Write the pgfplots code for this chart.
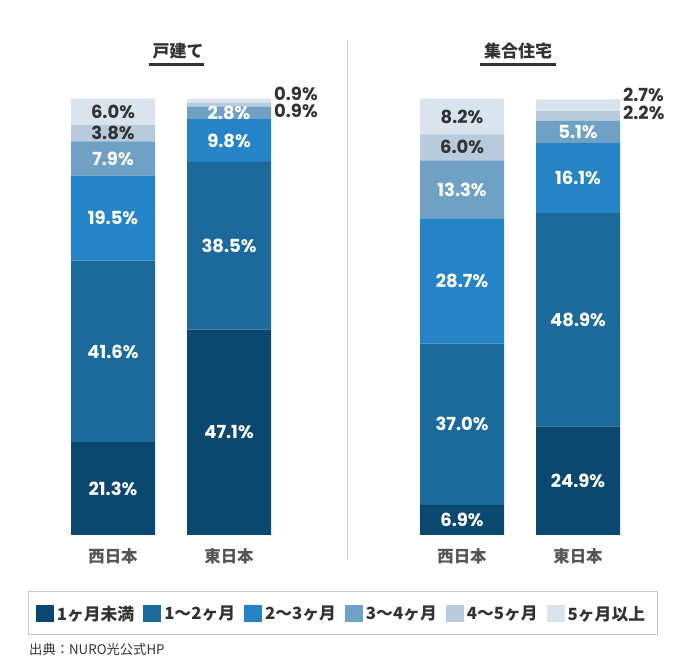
\documentclass[border=0pt]{standalone}
\usepackage{pgfplots}
\pgfplotsset{compat=1.18}
\usepackage{fontspec}
\setmainfont{Noto Sans CJK JP}
\newfontfamily\numfont{Poppins}
\definecolor{c1}{HTML}{0B4870}
\definecolor{c2}{HTML}{1C6A9C}
\definecolor{c3}{HTML}{2484C5}
\definecolor{c4}{HTML}{6EA1C4}
\definecolor{c5}{HTML}{B7CBDC}
\definecolor{c6}{HTML}{D9E4EE}
\definecolor{txt}{HTML}{333333}
\definecolor{lbl}{HTML}{555555}
\tikzset{numf/.style={font=\numfont\fontsize{18}{18}\selectfont\bfseries}}
\pgfplotsset{
  geom/.style={scale only axis, width=232pt, height=436pt,
    xmin=-0.5, xmax=1.5, ymin=0, ymax=100, clip=false,
    axis line style={draw=none}, ytick=\empty, major tick length=0pt,
    anchor=south west},
  panel/.style={geom, ybar stacked, bar width=84pt, xtick={0,1},
    xticklabels={西日本,東日本},
    xticklabel style={font=\fontsize{16.4}{16.4}\selectfont\bfseries, text=lbl, yshift=-10pt}},
  labs/.style={geom, xtick=\empty},
  lw/.style={draw=none, only marks, mark=none, point meta=explicit,
    nodes near coords={\pgfmathprintnumber[fixed,fixed zerofill,precision=1,assume math mode=true]{\pgfplotspointmeta}\%},
    every node near coord/.style={anchor=center, text=white, numf}},
  ld/.style={lw, every node near coord/.style={anchor=center, text=txt, numf}},
  lo/.style={lw, every node near coord/.style={anchor=west, text=txt, numf, inner xsep=2pt, inner ysep=0pt, text height=12.5pt, text depth=0pt}},
}
\begin{document}
\begin{tikzpicture}
\useasboundingbox (0pt,0pt) rectangle (684pt,660pt);
% left panel
\begin{axis}[panel, at={(55pt,125pt)},
  legend columns=6,
  legend style={draw=none, fill=none, at={(1.237,-0.181)}, anchor=center,
    font=\fontsize{16.8}{16.8}\selectfont\bfseries, text=txt,
    nodes={inner xsep=3pt},
    /tikz/every odd column/.append style={column sep=0pt},
    /tikz/every even column/.append style={column sep=6pt}},
  legend image code/.code={\fill[#1] (0pt,-8pt) rectangle (18pt,9pt);},
]
\addplot[fill=c1, draw=none] coordinates {(0,21.3) (1,47.1)};
\addplot[fill=c2, draw=none] coordinates {(0,41.6) (1,38.5)};
\addplot[fill=c3, draw=none] coordinates {(0,19.5) (1,9.8)};
\addplot[fill=c4, draw=none] coordinates {(0,7.9) (1,2.8)};
\addplot[fill=c5, draw=none] coordinates {(0,3.8) (1,0.9)};
\addplot[fill=c6, draw=none] coordinates {(0,6.0) (1,0.9)};
\legend{1ヶ月未満,1〜2ヶ月,2〜3ヶ月,3〜4ヶ月,4〜5ヶ月,5ヶ月以上}
\end{axis}
\begin{axis}[labs, at={(55pt,125pt)}]
\addplot[lw] table[meta=m] {
x y m
0 10.65 21.3
0 42.1 41.6
0 72.65 19.5
0 86.35 7.9
1 23.55 47.1
1 66.35 38.5
1 90.5 9.8
1 96.8 2.8
};
\addplot[ld] table[meta=m] {
x y m
0 92.2 3.8
0 97.1 6.0
};
\addplot[lo] table[meta=m] {
x y m
1.37 101.2 0.9
1.37 97.1 0.9
};
\end{axis}
% right panel
\begin{axis}[panel, at={(404pt,125pt)}]
\addplot[fill=c1, draw=none] coordinates {(0,6.9) (1,24.9)};
\addplot[fill=c2, draw=none] coordinates {(0,37.0) (1,48.9)};
\addplot[fill=c3, draw=none] coordinates {(0,28.7) (1,16.1)};
\addplot[fill=c4, draw=none] coordinates {(0,13.3) (1,5.1)};
\addplot[fill=c5, draw=none] coordinates {(0,6.0) (1,2.2)};
\addplot[fill=c6, draw=none] coordinates {(0,8.2) (1,2.7)};
\end{axis}
\begin{axis}[labs, at={(404pt,125pt)}]
\addplot[lw] table[meta=m] {
x y m
0 3.45 6.9
0 25.4 37.0
0 58.25 28.7
0 79.25 13.3
1 12.45 24.9
1 49.35 48.9
1 81.85 16.1
1 92.45 5.1
};
\addplot[ld] table[meta=m] {
x y m
0 88.9 6.0
0 96.0 8.2
};
\addplot[lo] table[meta=m] {
x y m
1.37 100.8 2.7
1.37 96.8 2.2
};
\end{axis}
% titles, divider, legend frame, source
\node[font=\fontsize{17}{17}\selectfont\bfseries, text=txt] at (178pt,609pt) {戸建て};
\draw[line width=3pt, txt] (149pt,595pt) -- (204pt,595pt);
\node[font=\fontsize{17}{17}\selectfont\bfseries, text=txt] at (518pt,609pt) {集合住宅};
\draw[line width=3pt, txt] (480pt,595pt) -- (556pt,595pt);
\draw[line width=1pt, black!20] (347pt,100pt) -- (347pt,620pt);
\draw[line width=1pt, black!22] (28pt,25pt) rectangle (657pt,68pt);
\node[anchor=west, font=\fontsize{13.3}{13.3}\selectfont, text=txt, inner sep=0pt] at (29pt,11pt) {出典：NURO光公式HP};
\end{tikzpicture}
\end{document}
